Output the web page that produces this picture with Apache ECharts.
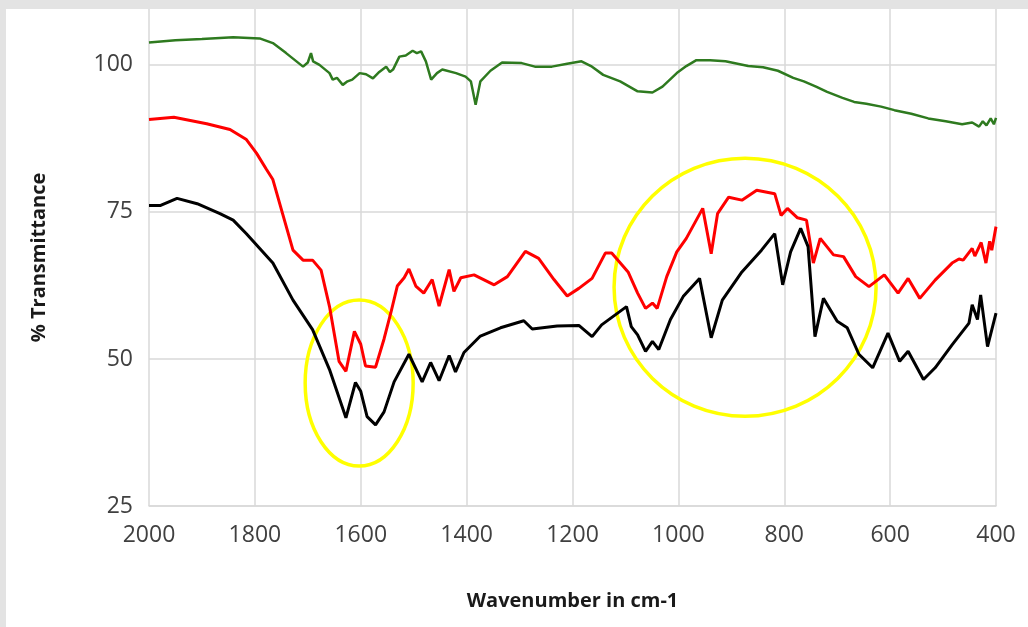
<!doctype html>
<html lang="en">
<head>
	<meta charset="UTF-8">
	<title>% Transmittance vs Wavenumber</title>
	<script src="https://cdn.jsdelivr.net/npm/echarts@6/dist/echarts.min.js"></script>
	<style>
		html, body { margin: 0; padding: 0; background: #e3e3e3; }
		#main { position: absolute; left: 6px; top: 9px; width: 1022px; height: 618px; background: #fff; }
	</style>
</head>
<body>
<div id="main"></div>
<script type="text/javascript">
	// x ticks (wavenumber, cm-1) and y ticks (% T)
	var xTicks = [2000, 1800, 1600, 1400, 1200, 1000, 800, 600, 400];
	var yTicks = [25, 50, 75, 100];

	// green trace
	var greenWn = [2000, 1950, 1900, 1841, 1791, 1766, 1741, 1709, 1700, 1694, 1690, 1678, 1659, 1653, 1645, 1634, 1625, 1616, 1602, 1590,
		1577, 1565, 1552, 1545, 1539, 1527, 1515, 1502, 1494, 1486, 1477, 1467, 1456, 1446, 1420, 1402, 1392, 1383, 1374, 1355,
		1333, 1296, 1271, 1239, 1210, 1183, 1165, 1142, 1110, 1077, 1049, 1030, 1003, 985, 966, 940, 911, 868, 840, 812,
		783, 763, 740, 719, 690, 668, 645, 617, 592, 560, 528, 495, 464, 445, 432, 425, 418, 410, 404, 400];
	var greenT = [103.8, 104.2, 104.4, 104.7, 104.5, 103.7, 102.0, 99.7, 100.4, 102.0, 100.6, 100.0, 98.6, 97.5, 97.8, 96.6, 97.2, 97.5, 98.6, 98.4,
		97.7, 98.8, 99.7, 98.8, 99.2, 101.4, 101.6, 102.4, 102.0, 102.3, 100.6, 97.5, 98.6, 99.2, 98.6, 98.0, 97.2, 93.2, 97.2, 99.0,
		100.4, 100.3, 99.7, 99.7, 100.2, 100.6, 99.8, 98.3, 97.2, 95.5, 95.3, 96.3, 98.6, 99.8, 100.8, 100.8, 100.6, 99.8, 99.6, 99.0,
		97.8, 97.2, 96.3, 95.4, 94.4, 93.7, 93.4, 92.9, 92.3, 91.7, 90.9, 90.4, 89.9, 90.2, 89.5, 90.4, 89.7, 90.9, 89.9, 91.0];

	// red trace
	var redWn = [2000, 1953, 1891, 1847, 1816, 1797, 1778, 1766, 1747, 1728, 1709, 1691, 1675, 1659, 1641, 1628, 1612, 1600, 1591, 1572,
		1556, 1543, 1531, 1518, 1509, 1496, 1481, 1465, 1452, 1433, 1424, 1411, 1386, 1348, 1323, 1289, 1264, 1235, 1210, 1188,
		1163, 1138, 1126, 1095, 1077, 1062, 1049, 1040, 1022, 1003, 985, 954, 938, 926, 905, 880, 852, 818, 806, 794,
		775, 758, 745, 732, 707, 688, 665, 640, 611, 585, 566, 544, 515, 483, 470, 462, 445, 440, 428, 419,
		412, 408, 400];
	var redT = [90.7, 91.1, 90.0, 89.0, 87.3, 85.0, 82.2, 80.5, 74.5, 68.5, 66.8, 66.8, 65.1, 58.9, 49.6, 47.9, 54.7, 52.5, 48.8, 48.6,
		53.4, 57.9, 62.4, 63.8, 65.3, 62.4, 61.2, 63.5, 59.0, 65.2, 61.5, 63.8, 64.3, 62.6, 64.0, 68.3, 67.1, 63.5, 60.7, 62.0,
		63.7, 68.0, 68.0, 64.8, 61.2, 58.6, 59.5, 58.6, 64.0, 68.2, 70.5, 75.6, 67.9, 74.7, 77.5, 77.0, 78.7, 78.1, 74.4, 75.6,
		74.0, 73.6, 66.3, 70.5, 67.7, 67.4, 64.0, 62.3, 64.3, 61.2, 63.7, 60.3, 63.4, 66.3, 67.0, 66.8, 68.8, 67.5, 69.8, 66.3,
		70.0, 68.5, 72.5];

	// black trace
	var blackWn = [2000, 1978, 1947, 1909, 1866, 1841, 1816, 1766, 1728, 1691, 1659, 1628, 1610, 1600, 1588, 1572, 1556, 1537, 1509, 1484,
		1468, 1452, 1433, 1421, 1405, 1374, 1336, 1292, 1276, 1229, 1188, 1163, 1145, 1098, 1089, 1077, 1062, 1049, 1037, 1015,
		991, 960, 938, 917, 880, 843, 818, 803, 788, 769, 755, 742, 726, 700, 681, 659, 633, 604, 582, 566,
		537, 515, 483, 451, 445, 435, 429, 416, 400];
	var blackT = [76.1, 76.1, 77.3, 76.4, 74.7, 73.6, 71.3, 66.3, 60.0, 55.0, 48.2, 40.0, 46.0, 44.5, 40.2, 38.8, 41.0, 46.1, 50.8, 46.1,
		49.4, 46.3, 50.6, 47.8, 51.1, 53.9, 55.3, 56.5, 55.1, 55.6, 55.7, 53.8, 55.8, 58.9, 55.5, 54.1, 51.3, 53.0, 51.6, 56.7,
		60.6, 63.7, 53.6, 60.0, 64.8, 68.5, 71.3, 62.6, 68.2, 72.2, 69.1, 53.8, 60.3, 56.4, 55.3, 50.8, 48.5, 54.4, 49.6, 51.3,
		46.5, 48.5, 52.4, 56.1, 59.2, 56.7, 60.9, 52.1, 57.8];

	function zip(a, b) {
		var out = [];
		for (var i = 0; i < a.length; i++) out.push([a[i], b[i]]);
		return out;
	}

	var myChart = echarts.init(document.getElementById('main'));
	var gridColor = '#d9d9d9';

	var option = {
		animation: false,
		backgroundColor: '#fff',
		grid: { left: 143, right: 32, top: 0, bottom: 121 },
		xAxis: {
			type: 'value',
			min: xTicks[xTicks.length - 1],
			max: xTicks[0],
			interval: 200,
			inverse: true,
			name: 'Wavenumber in cm-1',
			nameLocation: 'middle',
			nameGap: 85,
			nameTextStyle: { fontFamily: 'Open Sans', fontWeight: 'bold', fontSize: 20, color: '#1a1a1a' },
			axisLine: { show: true, lineStyle: { color: gridColor, width: 1.5 } },
			axisTick: { show: false },
			axisLabel: { margin: 18, fontFamily: 'Open Sans', fontSize: 23, color: '#404040',
				formatter: function (v) { return String(v); } },
			splitLine: { show: true, lineStyle: { color: gridColor, width: 1.5 } }
		},
		yAxis: {
			type: 'value',
			min: yTicks[0],
			max: 109.5,
			interval: 25,
			name: '% Transmittance',
			nameLocation: 'middle',
			nameGap: 100,
			nameTextStyle: { fontFamily: 'Open Sans', fontWeight: 'bold', fontSize: 20, color: '#1a1a1a' },
			axisLine: { show: false },
			axisTick: { show: false },
			axisLabel: { margin: 16, fontFamily: 'Open Sans', fontSize: 23, color: '#404040', showMaxLabel: false },
			splitLine: { show: true, lineStyle: { color: [gridColor, gridColor, gridColor, gridColor, '#fff'], width: 1.5 } }
		},
		series: [
			{ name: 'green', type: 'line', data: zip(greenWn, greenT), showSymbol: false, z: 3,
				lineStyle: { color: '#2e7a1f', width: 2.5 } },
			{ name: 'red', type: 'line', data: zip(redWn, redT), showSymbol: false, z: 4,
				lineStyle: { color: '#ff0000', width: 3 } },
			{ name: 'black', type: 'line', data: zip(blackWn, blackT), showSymbol: false, z: 5,
				lineStyle: { color: '#000000', width: 3 } }
		]
	};
	myChart.setOption(option);

	// yellow highlight ellipses, centred on data coordinates
	var c1 = myChart.convertToPixel({ gridIndex: 0 }, [1603, 45.9]);
	var c2 = myChart.convertToPixel({ gridIndex: 0 }, [874, 62.2]);
	myChart.setOption({
		graphic: [
			{ type: 'ellipse', z: 2, shape: { cx: c1[0], cy: c1[1], rx: 54, ry: 83 },
				style: { fill: 'none', stroke: '#ffff00', lineWidth: 3.5 } },
			{ type: 'ellipse', z: 2, shape: { cx: c2[0], cy: c2[1], rx: 131, ry: 129 },
				style: { fill: 'none', stroke: '#ffff00', lineWidth: 3.5 } }
		]
	});
</script>
</body>
</html>
